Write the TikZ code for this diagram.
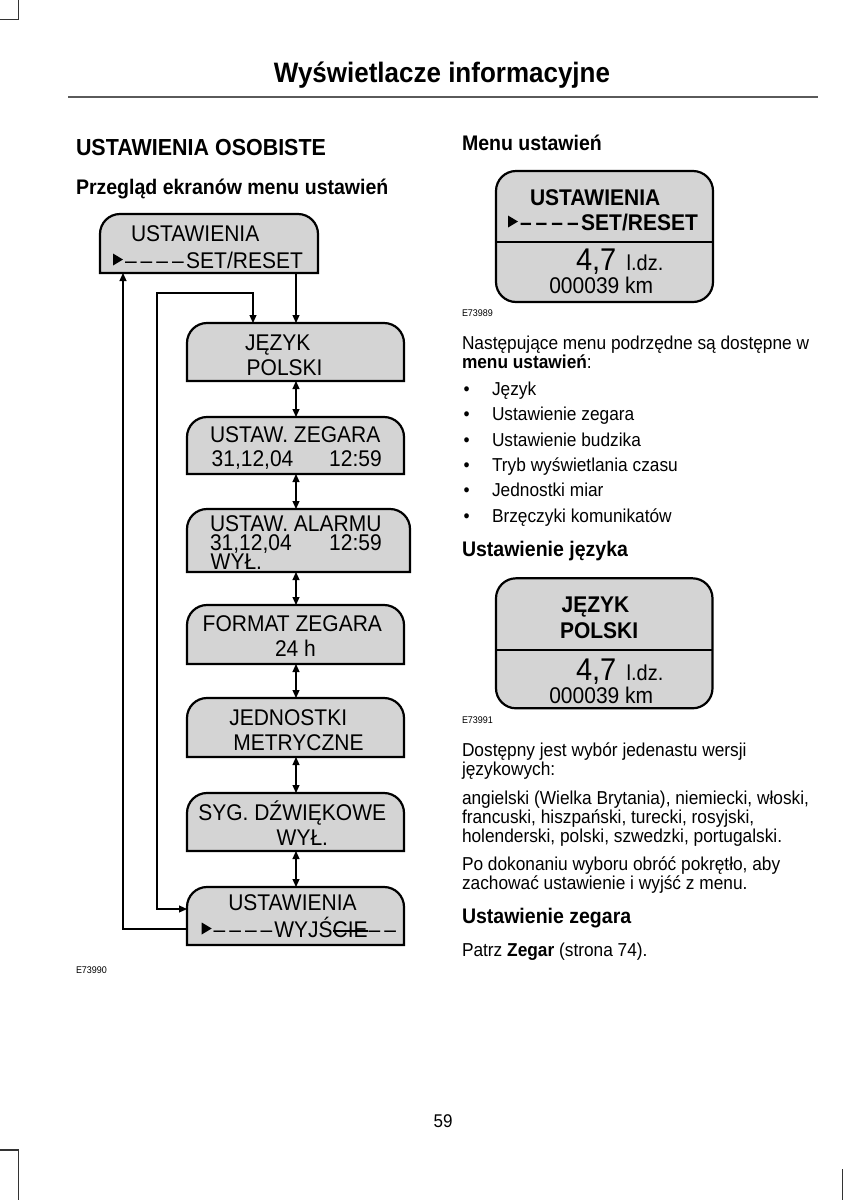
\documentclass[tikz,border=0pt]{standalone}
\usepackage{fontspec}
\setmainfont{Liberation Sans}[FakeStretch=0.925]
\usetikzlibrary{arrows.meta,fit}
\definecolor{scrgray}{HTML}{D4D4D4}
\definecolor{rulegray}{HTML}{5A5A5A}
\definecolor{cropgray}{HTML}{333333}
\newcommand\tri{\tikz[baseline=0pt]\fill (0pt,2.5pt) -- (10pt,8.5pt) -- (0pt,14.5pt) -- cycle;}
\newcommand\dsh{–\kern4pt}
\newcommand\strk[1]{\sbox0{#1}\rlap{\usebox0}\rule[5.2pt]{\wd0}{1.5pt}}
\tikzset{
 pg/.style={inner sep=0pt, outer sep=0pt},
 body/.style={pg, anchor=base west, font=\fontsize{18.7}{20}\selectfont},
 bhead/.style={pg, anchor=base west, font=\fontsize{21.1}{22}\selectfont\bfseries},
 dtext/.style={pg, anchor=base west, font=\fontsize{22.7}{24}\selectfont},
 dtextr/.style={pg, anchor=base east, font=\fontsize{22.7}{24}\selectfont},
 rtext/.style={pg, anchor=base west, font=\fontsize{22.7}{24}\selectfont\bfseries},
 bignum/.style={pg, anchor=base west, font=\fontsize{31.4}{32}\selectfont},
 unit/.style={pg, anchor=base west, font=\fontsize{21.6}{22}\selectfont},
 codetext/.style={pg, anchor=base west, font=\fontsize{9.7}{10}\selectfont},
 screen/.style={fill=scrgray, draw=black, line width=2.2pt},
 conn/.style={line width=1.1pt, -{Triangle[length=8pt,width=7pt]}},
 connb/.style={line width=1.1pt, {Triangle[length=8pt,width=7pt]}-{Triangle[length=8pt,width=7pt]}},
 crop/.style={draw=cropgray, line width=1.6pt},
}
% top-rounded screen box: name, x1, ytop, x2, ybottom (pixels, y downwards)
\newcommand\topbox[5]{%
 \draw[screen] (#2,-#5) -- (#2,-#3-20) arc[start angle=180,end angle=90,radius=20pt] -- (#4-20,-#3) arc[start angle=90,end angle=0,radius=20pt] -- (#4,-#5) -- cycle;
 \node[pg, fit={(#2,-#3)(#4,-#5)}] (#1) {};
}
\begin{document}
\begin{tikzpicture}[x=1pt,y=1pt]
\useasboundingbox (0,0) rectangle (862,-1200);
\fill[white] (0,0) rectangle (862,-1200);
% crop marks
\draw[crop] (18.5,0) -- (18.5,-19.3) -- (0,-19.3);
\draw[crop] (0,-1150) -- (18.5,-1150) -- (18.5,-1200);
\draw[crop] (842.3,-1169) -- (842.3,-1200);
% header
\node[pg, anchor=base, font=\fontsize{28.1}{30}\selectfont\bfseries] (title) at (442,-82) {Wyświetlacze informacyjne};
\draw[rulegray, line width=2.5pt] (68,-97) -- (818,-97);
% left headings
\node[pg, anchor=base west, font=\fontsize{23.2}{24}\selectfont\bfseries] (h1) at (76,-155) {USTAWIENIA OSOBISTE};
\node[bhead] (h2) at (76,-194) {Przegląd ekranów menu ustawień};
% diagram boxes
\topbox{b0}{100}{214}{318}{273}
\topbox{b1}{187}{323}{404}{381}
\topbox{b2}{187}{417}{404}{474}
\topbox{b3}{187}{509}{410}{572}
\topbox{b4}{187}{605}{404}{664}
\topbox{b5}{187}{698}{404}{757}
\topbox{b6}{187}{793}{404}{851}
\topbox{b7}{187}{887}{404}{945}
% box texts
\node[dtext] (t0a) at (131,-241.7) {USTAWIENIA};
\node[dtext] (t0b) at (113,-268) {\tri\kern2pt\dsh\dsh\dsh–\kern2.5pt SET/RESET};
\node[dtext] (t1a) at (245,-350) {JĘZYK};
\node[dtext] (t1b) at (246.7,-375) {POLSKI};
\node[dtext] (t2a) at (210,-442.7) {USTAW. ZEGARA};
\node[dtext] (t2b) at (211.7,-466.7) {31,12,04};
\node[dtextr] (t2c) at (381.7,-466.7) {12:59};
\node[dtext] (t3a) at (210,-531.7) {USTAW. ALARMU};
\node[dtext] (t3b) at (210,-550.7) {31,12,04};
\node[dtextr] (t3c) at (381.7,-550.7) {12:59};
\node[dtext] (t3d) at (210.7,-569) {WYŁ.};
\node[dtext] (t4a) at (202.7,-631.7) {FORMAT ZEGARA};
\node[dtext] (t4b) at (275,-656.7) {24 h};
\node[dtext] (t5a) at (229.3,-725) {JEDNOSTKI};
\node[dtext] (t5b) at (233.3,-750) {METRYCZNE};
\node[dtext] (t6a) at (198.3,-820) {SYG. DŹWIĘKOWE};
\node[dtext] (t6b) at (276.7,-845) {WYŁ.};
\node[dtext] (t7a) at (228.3,-910) {USTAWIENIA};
\node[dtext] (t7b) at (201.7,-937) {\tri\kern2pt\dsh\dsh\dsh–\kern2pt WYJŚ\strk{CIE}\kern1pt–\kern4pt–};
% connector guide coordinates
\coordinate (cx) at (296,0);
\coordinate (cy) at (253,0);
\coordinate (lx) at (157,0);
\coordinate (ox) at (123,0);
\coordinate (ytop) at (0,-293);
\coordinate (y7a) at (0,-909);
\coordinate (y7b) at (0,-929);
% connectors
\draw[conn] (b0.south -| cx) -- (b1.north -| cx);
\draw[connb] (b1.south -| cx) -- (b2.north -| cx);
\draw[connb] (b2.south -| cx) -- (b3.north -| cx);
\draw[connb] (b3.south -| cx) -- (b4.north -| cx);
\draw[connb] (b4.south -| cx) -- (b5.north -| cx);
\draw[connb] (b5.south -| cx) -- (b6.north -| cx);
\draw[connb] (b6.south -| cx) -- (b7.north -| cx);
\draw[connb] (b1.north -| cy) |- (lx |- ytop) -- (lx |- y7a) -- (b7.west |- y7a);
\draw[conn] (b7.west |- y7b) -| (b0.south -| ox);
\node[codetext] (c1) at (76,-973) {E73990};
% right column
\node[bhead] (h3) at (462,-150) {Menu ustawień};
\node[screen, rounded corners=20pt, pg, fit={(496,-171)(713,-302)}] (s1) {};
\draw[line width=2pt] (s1.west |- 0,-242.3) -- (s1.east |- 0,-242.3);
\node[rtext] (s1a) at (530,-205) {USTAWIENIA};
\node[rtext] (s1b) at (508,-230) {\tri\kern2pt\dsh\dsh\dsh–\kern2.5pt SET/RESET};
\node[bignum] (s1c) at (576,-270) {4,7};
\node[unit] (s1d) at (626.7,-270) {l.dz.};
\node[dtext] (s1e) at (549.3,-293.3) {000039 km};
\node[codetext] (c2) at (462,-316) {E73989};
\node[body] (p1) at (462,-349) {Następujące menu podrzędne są dostępne w};
\node[body] (p2) at (462,-368) {\textbf{menu ustawień}:};
\foreach \yy/\tt [count=\i] in {395/Język, 420/Ustawienie zegara, 446/Ustawienie budzika, 471/Tryb wyświetlania czasu, 496/Jednostki miar, 522/Brzęczyki komunikatów}{
 \node[body] (bul\i) at (463.5,-\yy) {•};
 \node[body] (li\i) at (492,-\yy) {\tt};
}
\node[bhead] (h4) at (462,-556) {Ustawienie języka};
\node[screen, rounded corners=20pt, pg, fit={(496,-578.3)(712.5,-708.3)}] (s2) {};
\draw[line width=2pt] (s2.west |- 0,-650) -- (s2.east |- 0,-650);
\node[rtext] (s2a) at (561.7,-612.3) {JĘZYK};
\node[rtext] (s2b) at (560,-638) {POLSKI};
\node[bignum] (s2c) at (576,-680) {4,7};
\node[unit] (s2d) at (626.7,-680) {l.dz.};
\node[dtext] (s2e) at (549.3,-703.3) {000039 km};
\node[codetext] (c3) at (462,-723) {E73991};
\node[body] (q1) at (462,-756) {Dostępny jest wybór jedenastu wersji};
\node[body] (q2) at (462,-775) {językowych:};
\node[body] (q3) at (462,-804) {angielski (Wielka Brytania), niemiecki, włoski,};
\node[body] (q4) at (462,-823) {francuski, hiszpański, turecki, rosyjski,};
\node[body] (q5) at (462,-842) {holenderski, polski, szwedzki, portugalski.};
\node[body] (q6) at (462,-870) {Po dokonaniu wyboru obróć pokrętło, aby};
\node[body] (q7) at (462,-889) {zachować ustawienie i wyjść z menu.};
\node[bhead] (h5) at (462,-923) {Ustawienie zegara};
\node[body] (q8) at (462,-956) {Patrz \textbf{Zegar} (strona 74).};
\node[pg, anchor=base, font=\fontsize{18.4}{19}\selectfont] (pnum) at (443,-1127) {59};
\end{tikzpicture}
\end{document}
